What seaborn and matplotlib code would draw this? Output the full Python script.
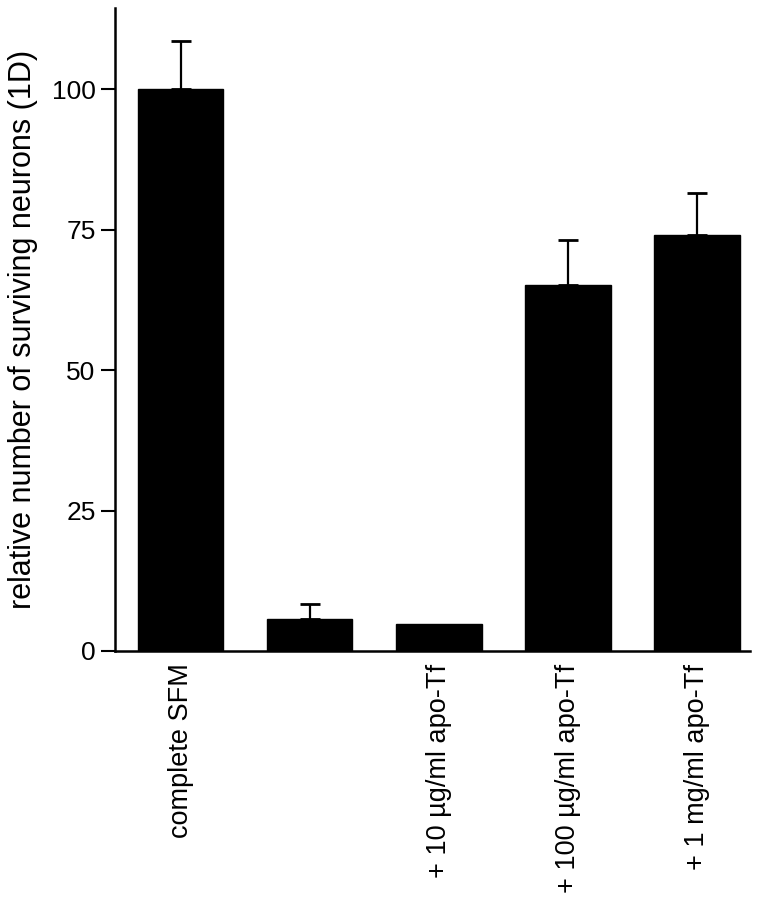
import numpy as np
import pandas as pd
import matplotlib.pyplot as plt
import seaborn as sns

# values
conditions = ['complete SFM', '', '+ 10 \u00b5g/ml apo-Tf', '+ 100 \u00b5g/ml apo-Tf', '+ 1 mg/ml apo-Tf']
survival = [100, 5.7, 4.8, 65.2, 74.0]
sem_upper = [8.7, 2.6, 0, 7.9, 7.6]
y_ticks = [0, 25, 50, 75, 100]

sns.set_style('ticks')
plt.rcParams['font.family'] = ['Liberation Sans', 'DejaVu Sans']
plt.rcParams['text.color'] = 'black'
plt.rcParams['axes.labelcolor'] = 'black'
plt.rcParams['xtick.color'] = 'black'
plt.rcParams['ytick.color'] = 'black'
plt.rcParams['axes.edgecolor'] = 'black'

df = pd.DataFrame({'condition': conditions, 'survival': survival})

fig = plt.figure(figsize=(7.64, 8.99), dpi=100)
ax = fig.add_axes([115/764, 1 - 651/899, 635/764, 643/899])

sns.barplot(data=df, x='condition', y='survival', color='black', width=0.66,
            saturation=1, ax=ax, edgecolor='black')

# one-sided error bars (upper only)
err = np.array(sem_upper)
mask = err > 0
xs = np.arange(len(conditions))
ax.errorbar(xs[mask], np.array(survival)[mask], yerr=[np.zeros(mask.sum()), err[mask]],
            fmt='none', ecolor='black', elinewidth=1.6, capsize=7, capthick=2, zorder=1)

ax.set_ylim(0, 114.5)
ax.set_xlim(-0.51, 4.41)
ax.set_yticks(y_ticks)
ax.tick_params(axis='y', labelsize=19, length=10, width=1.5, direction='out', pad=4)
ax.tick_params(axis='x', length=0, labelsize=19.5, pad=9, rotation=90)
for lab in ax.get_xticklabels():
    lab.set_verticalalignment('top')
ax.set_xlabel('')
ax.set_ylabel('relative number of surviving neurons (1D)', fontsize=22, labelpad=10)

sns.despine(ax=ax)
ax.spines['left'].set_linewidth(1.8)
ax.spines['bottom'].set_linewidth(1.8)

fig.savefig('out.png', dpi=100)
